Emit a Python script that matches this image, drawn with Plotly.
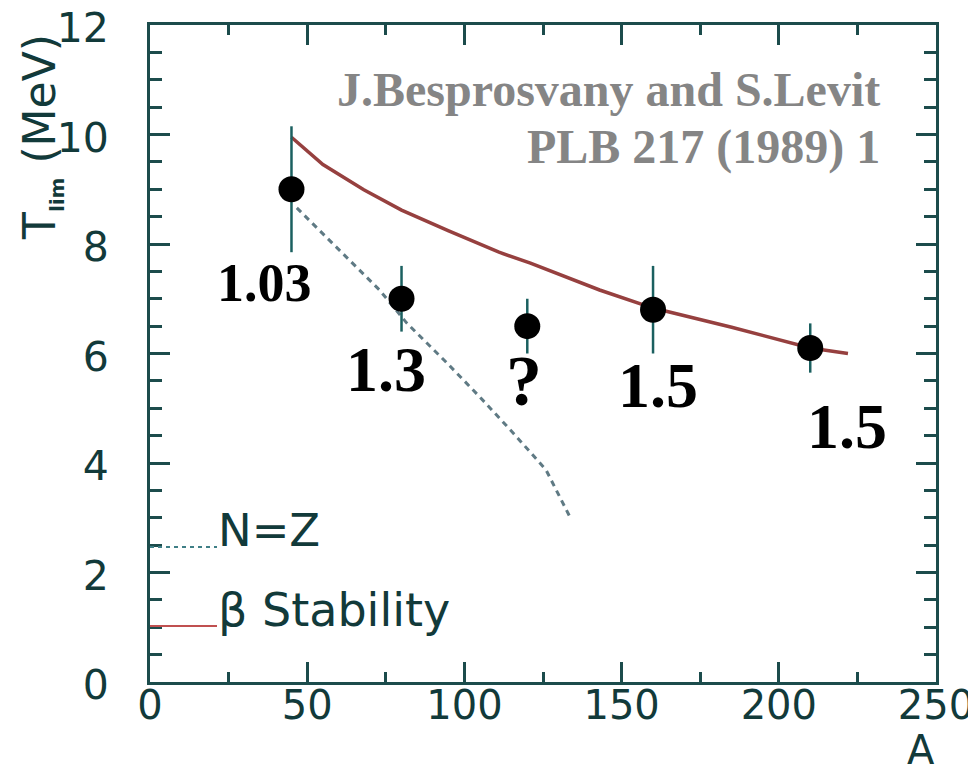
import plotly.graph_objects as go

# ---- data ----
data_A = [45, 80, 120, 160, 210]
data_T = [9.0, 7.0, 6.5, 6.8, 6.1]
data_err = [1.15, 0.6, 0.5, 0.8, 0.45]
data_labels = ["1.03", "1.3", "?", "1.5", "1.5"]

beta_A = [45, 55, 68, 80, 95, 111, 121, 143, 160, 185, 210, 222]
beta_T = [9.95, 9.45, 8.99, 8.62, 8.24, 7.85, 7.65, 7.16, 6.83, 6.48, 6.1, 6.0]

nz_A = [46.7, 62.6, 73, 81.6, 94.4, 105, 115.5, 126, 133.6]
nz_T = [8.66, 7.76, 7.16, 6.56, 5.83, 5.2, 4.55, 3.87, 3.01]

x_ticks = [0, 50, 100, 150, 200, 250]
y_ticks = [0, 2, 4, 6, 8, 10, 12]

# ---- layout helpers (screen pixel -> paper) ----
OFF = 8                      # default page body margin
W, H = 976, 773
L, R, T, B = 150, 936, 25, 682   # plot area in screen pixels
def px(x):
    return (x - L) / (R - L)
def py(y):
    return (B - y) / (B - T)

axis_col = "#1c4c4c"
text_col = "#123a3a"

fig = go.Figure()

fig.add_trace(go.Scatter(x=beta_A, y=beta_T, mode="lines",
                         line=dict(color="#96403f", width=3.5), showlegend=False))
fig.add_trace(go.Scatter(x=nz_A, y=nz_T, mode="lines",
                         line=dict(color="#5f7a84", width=3, dash="6px,5px"), showlegend=False))
fig.add_trace(go.Scatter(x=data_A, y=data_T, mode="markers",
                         marker=dict(color="black", size=26),
                         error_y=dict(type="data", array=data_err, visible=True,
                                      color="#1b6060", thickness=2.5, width=0),
                         showlegend=False))

axis_common = dict(showline=True, linecolor=axis_col, linewidth=3, mirror="allticks",
                   ticks="inside", tickcolor=axis_col, tickwidth=2.5,
                   showgrid=False, zeroline=False, automargin=False,
                   ticklabeloverflow="allow")

fig.update_xaxes(range=[0, 250], tickvals=x_ticks, ticklen=20,
                 minor=dict(ticks="inside", dtick=25, ticklen=10, tickcolor=axis_col, tickwidth=2.5, showgrid=False),
                 ticklabelstandoff=-14,
                 tickfont=dict(family="DejaVu Sans", size=40, color=text_col), **axis_common)
fig.update_yaxes(range=[0, 12], tickvals=y_ticks, ticklen=20,
                 minor=dict(ticks="inside", dtick=0.5, ticklen=12, tickcolor=axis_col, tickwidth=2.5, showgrid=False),
                 ticklabelstandoff=30, ticklabelshift=3,
                 tickfont=dict(family="DejaVu Sans", size=41, color=text_col), **axis_common)

annotations = []
# value labels
label_pos = [(264, 283, 54), (386, 369, 64), (524, 381, 72), (658, 385, 64), (847, 426, 64)]
for lab, (x, y, s) in zip(data_labels, label_pos):
    annotations.append(dict(text="<b>%s</b>" % lab, xref="paper", yref="paper",
                            x=px(x), y=py(y), xanchor="center", yanchor="middle",
                            showarrow=False,
                            font=dict(family="Liberation Serif", size=s, color="black")))
# reference text
annotations.append(dict(text="<b>J.Besprosvany and S.Levit</b>", xref="paper", yref="paper",
                        x=px(882), y=py(89), xanchor="right", yanchor="middle", showarrow=False,
                        font=dict(family="Liberation Serif", size=48, color="#858585")))
annotations.append(dict(text="<b>PLB 217 (1989) 1</b>", xref="paper", yref="paper",
                        x=px(882), y=py(147), xanchor="right", yanchor="middle", showarrow=False,
                        font=dict(family="Liberation Serif", size=48, color="#858585")))
# legend texts
annotations.append(dict(text="N=Z", xref="paper", yref="paper", x=px(216), y=py(530),
                        xanchor="left", yanchor="middle", showarrow=False,
                        font=dict(family="DejaVu Sans", size=45, color=text_col)))
annotations.append(dict(text="β Stability", xref="paper", yref="paper", x=px(216), y=py(610),
                        xanchor="left", yanchor="middle", showarrow=False,
                        font=dict(family="DejaVu Sans", size=46, color=text_col)))
# axis titles
annotations.append(dict(text="T<sub><span style='font-size:20px'><b>lim</b></span></sub> (MeV)",
                        xref="paper", yref="paper",
                        x=px(41), y=py(137), xanchor="center", yanchor="middle",
                        textangle=-90, showarrow=False,
                        font=dict(family="DejaVu Sans", size=44, color=text_col)))
annotations.append(dict(text="A", xref="paper", yref="paper", x=px(921), y=py(750),
                        xanchor="center", yanchor="middle", showarrow=False,
                        font=dict(family="DejaVu Sans", size=40, color=text_col)))

shapes = [
    dict(type="line", xref="paper", yref="paper", x0=0, x1=px(217), y0=py(547), y1=py(547),
         line=dict(color="#3f7f86", width=2, dash="4px,4px")),
    dict(type="line", xref="paper", yref="paper", x0=0, x1=px(217), y0=py(626), y1=py(626),
         line=dict(color="#c05050", width=2)),
]

fig.update_layout(width=W, height=H,
                  margin=dict(l=L - OFF, r=W - (R - OFF), t=T - OFF, b=H - (B - OFF)),
                  paper_bgcolor="white", plot_bgcolor="white",
                  annotations=annotations, shapes=shapes, showlegend=False)

fig.write_html("out.html")
